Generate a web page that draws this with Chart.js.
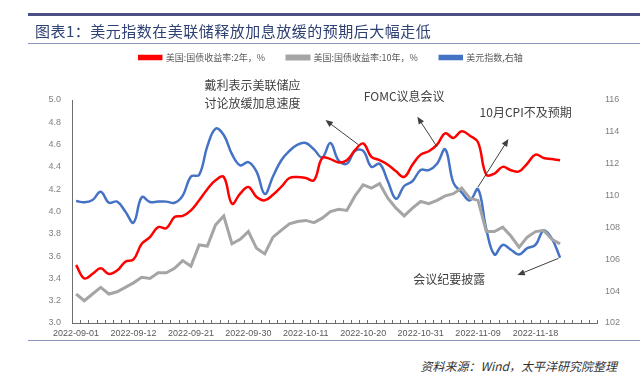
<!DOCTYPE html>
<html>
<head>
<meta charset="utf-8">
<script src="https://cdn.jsdelivr.net/npm/chart.js@4/dist/chart.umd.min.js"></script>
<style>
  html, body { margin: 0; padding: 0; background: #fff; }
  body { width: 642px; height: 377px; position: relative; overflow: hidden; font-family: "Noto Sans CJK SC", sans-serif; }
  .bar-top { position: absolute; left: 28px; right: 2px; top: 13px; height: 3px; background: #4b4f86; }
  .title { position: absolute; left: 35px; top: 20px; font-size: 15px; color: #2f4173; letter-spacing: 0.5px; z-index: 2; }
  .rule { position: absolute; left: 28px; right: 2px; height: 1px; background: #9093b8; }
  #box { position: absolute; left: 0; top: 0; width: 642px; height: 340px; }
  .source { position: absolute; right: 25px; top: 357px; font-size: 12px; font-style: italic; color: #333; }
</style>
</head>
<body>
<div class="bar-top"></div>
<div class="title">图表1：美元指数在美联储释放加息放缓的预期后大幅走低</div>
<div class="rule" style="top:43px"></div>
<div id="box"><canvas id="chart"></canvas></div>
<div class="rule" style="top:340px"></div>
<div class="source">资料来源：Wind，太平洋研究院整理</div>

<script>
// trading days on the axis (the last few have no data yet)
const dates = [
    '2022-09-01', '2022-09-02', '2022-09-05', '2022-09-06', '2022-09-07', '2022-09-08', '2022-09-09',
    '2022-09-12', '2022-09-13', '2022-09-14', '2022-09-15', '2022-09-16', '2022-09-19', '2022-09-20',
    '2022-09-21', '2022-09-22', '2022-09-23', '2022-09-26', '2022-09-27', '2022-09-28', '2022-09-29',
    '2022-09-30', '2022-10-03', '2022-10-04', '2022-10-05', '2022-10-06', '2022-10-07', '2022-10-10',
    '2022-10-11', '2022-10-12', '2022-10-13', '2022-10-14', '2022-10-17', '2022-10-18', '2022-10-19',
    '2022-10-20', '2022-10-21', '2022-10-24', '2022-10-25', '2022-10-26', '2022-10-27', '2022-10-28',
    '2022-10-31', '2022-11-01', '2022-11-02', '2022-11-03', '2022-11-04', '2022-11-07', '2022-11-08',
    '2022-11-09', '2022-11-10', '2022-11-11', '2022-11-14', '2022-11-15', '2022-11-16', '2022-11-17',
    '2022-11-18', '2022-11-21', '2022-11-22', '2022-11-23', '2022-11-24', '2022-11-25', '2022-11-28',
    '2022-11-29'
];

const shownDates = ['2022-09-01', '2022-09-12', '2022-09-21', '2022-09-30', '2022-10-11',
    '2022-10-20', '2022-10-31', '2022-11-09', '2022-11-18'];

const yield2y = [
    3.52, 3.40, 3.44, 3.49, 3.44, 3.47, 3.55, 3.57, 3.71, 3.77,
    3.86, 3.85, 3.95, 3.96, 4.01, 4.10, 4.20, 4.28, 4.31, 4.07,
    4.16, 4.22, 4.13, 4.10, 4.15, 4.22, 4.30, 4.31, 4.30, 4.28,
    4.48, 4.47, 4.44, 4.46, 4.55, 4.61, 4.49, 4.46, 4.42, 4.36,
    4.31, 4.42, 4.51, 4.54, 4.60, 4.70, 4.66, 4.72, 4.68, 4.62,
    4.33, 4.34, 4.40, 4.37, 4.36, 4.43, 4.51, 4.48, 4.47, 4.46
];

const yield10y = [
    3.26, 3.20, 3.26, 3.32, 3.26, 3.28, 3.32, 3.36, 3.41, 3.40,
    3.45, 3.45, 3.49, 3.56, 3.51, 3.70, 3.69, 3.88, 3.96, 3.71,
    3.75, 3.82, 3.67, 3.62, 3.77, 3.83, 3.89, 3.91, 3.92, 3.90,
    3.94, 4.00, 4.02, 4.01, 4.14, 4.24, 4.21, 4.25, 4.12, 4.03,
    3.96, 4.03, 4.09, 4.07, 4.10, 4.14, 4.16, 4.21, 4.12, 4.10,
    3.82, 3.82, 3.86, 3.78, 3.68, 3.77, 3.82, 3.83, 3.75, 3.71
];

const dxy = [
    109.66, 109.58, 109.72, 110.24, 109.55, 109.62, 109.0, 108.3, 109.9, 109.6,
    109.62, 109.62, 109.55, 110.0, 111.2, 111.3, 113.1, 114.2, 113.8, 112.6,
    111.9, 112.1, 111.5, 110.1, 111.2, 112.2, 112.8, 113.2, 113.3, 112.9,
    112.4, 113.3, 112.2, 112.0, 112.8, 112.8, 111.8, 112.0, 110.9, 109.8,
    110.6, 110.9, 111.6, 111.6, 112.0, 112.9, 110.8, 110.2, 109.7, 110.4,
    107.9, 106.3, 106.9, 106.6, 106.3, 106.7, 106.9, 107.8, 107.3, 106.1
];

const seriesNames = ['美国:国债收益率:2年，%', '美国:国债收益率:10年，%', '美元指数,右轴'];

// callouts, placed in (category index, left-axis value)
const notes = [
    { text: '戴利表示美联储应', at: 21.5, val: 5.13 },
    { text: '讨论放缓加息速度', at: 21.5, val: 4.97 },
    { text: 'FOMC议息会议', at: 40.0, val: 5.03 },
    { text: '10月CPI不及预期', at: 54.8, val: 4.89 },
    { text: '会议纪要披露', at: 45.5, val: 3.39 }
];
const arrows = [
    { from: [34.4, 4.60], to: [30.4, 4.82] },
    { from: [44.0, 4.58], to: [41.6, 4.85] },
    { from: [49.0, 4.22], to: [52.7, 4.65] },
    { from: [58.8, 3.58], to: [53.8, 3.43] }
];

const axisFont = { family: '"Liberation Sans", Arial, sans-serif', size: 9 };

// extra room between legend and plot
const legendGap = {
    id: 'legendGap',
    beforeInit(chart) {
        const fit = chart.legend.fit;
        chart.legend.fit = function () {
            fit.bind(chart.legend)();
            this.height += 28;
        };
    }
};

// small tick marks pointing up into the plot, between categories
const innerTicks = {
    id: 'innerTicks',
    afterDraw(chart) {
        const x = chart.scales.x;
        const bottom = chart.chartArea.bottom;
        const ctx = chart.ctx;
        ctx.save();
        ctx.strokeStyle = '#6e6e6e';
        ctx.lineWidth = 1;
        ctx.beginPath();
        for (let i = 0; i <= dates.length; i++) {
            const px = Math.round(x.getPixelForValue(i - 0.5)) + 0.5;
            ctx.moveTo(px, bottom);
            ctx.lineTo(px, bottom - 3);
        }
        ctx.stroke();
        ctx.restore();
    }
};

const callouts = {
    id: 'callouts',
    afterDatasetsDraw(chart) {
        const { ctx, scales: { x, y } } = chart;
        ctx.save();
        ctx.font = '12px "Noto Sans CJK SC"';
        ctx.fillStyle = '#404040';
        ctx.textAlign = 'center';
        ctx.textBaseline = 'middle';
        notes.forEach(n => ctx.fillText(n.text, x.getPixelForValue(n.at), y.getPixelForValue(n.val)));

        ctx.strokeStyle = '#404040';
        ctx.lineWidth = 1;
        arrows.forEach(a => {
            const x1 = x.getPixelForValue(a.from[0]), y1 = y.getPixelForValue(a.from[1]);
            const x2 = x.getPixelForValue(a.to[0]), y2 = y.getPixelForValue(a.to[1]);
            const ang = Math.atan2(y2 - y1, x2 - x1);
            ctx.beginPath();
            ctx.moveTo(x1, y1);
            ctx.lineTo(x2 - 5 * Math.cos(ang), y2 - 5 * Math.sin(ang));
            ctx.stroke();
            ctx.beginPath();
            ctx.moveTo(x2, y2);
            ctx.lineTo(x2 - 8 * Math.cos(ang - 0.4), y2 - 8 * Math.sin(ang - 0.4));
            ctx.lineTo(x2 - 8 * Math.cos(ang + 0.4), y2 - 8 * Math.sin(ang + 0.4));
            ctx.closePath();
            ctx.fill();
        });
        ctx.restore();
    }
};

new Chart(document.getElementById('chart'), {
    type: 'line',
    data: {
        labels: dates,
        datasets: [
            {
                label: seriesNames[0], data: yield2y, yAxisID: 'y',
                borderColor: '#ff0000', backgroundColor: '#ff0000',
                borderWidth: 2.5, tension: 0.4, pointRadius: 0
            },
            {
                label: seriesNames[1], data: yield10y, yAxisID: 'y',
                borderColor: '#a5a5a5', backgroundColor: '#a5a5a5',
                borderWidth: 3, tension: 0, pointRadius: 0
            },
            {
                label: seriesNames[2], data: dxy, yAxisID: 'y1',
                borderColor: '#4472c4', backgroundColor: '#4472c4',
                borderWidth: 2.5, tension: 0.4, pointRadius: 0
            }
        ]
    },
    options: {
        responsive: true,
        maintainAspectRatio: false,
        animation: false,
        layout: { padding: { top: 31, left: 20, right: 0, bottom: 0 } },
        plugins: {
            legend: {
                display: true,
                position: 'top',
                labels: {
                    boxWidth: 22,
                    boxHeight: 3,
                    padding: 22,
                    color: '#595959',
                    font: { family: '"Noto Sans CJK SC"', size: 9 }
                }
            },
            tooltip: { enabled: false }
        },
        scales: {
            x: {
                offset: true,
                grid: { display: false, drawTicks: false },
                border: { display: true, color: '#6e6e6e', width: 1 },
                ticks: {
                    autoSkip: false,
                    maxRotation: 0,
                    minRotation: 0,
                    padding: 5,
                    color: '#595959',
                    font: axisFont,
                    callback: function (value, index) {
                        return shownDates.includes(dates[index]) ? dates[index] : '';
                    }
                },
                afterFit: function (scale) { scale.height = 17; }
            },
            y: {
                position: 'left',
                min: 3.0,
                max: 5.0,
                grid: { display: false, drawTicks: false },
                border: { display: true, color: '#6e6e6e', width: 1 },
                ticks: {
                    stepSize: 0.2,
                    padding: 11,
                    color: '#7f7f7f',
                    font: axisFont,
                    callback: v => Number(v).toFixed(1)
                },
                afterFit: function (scale) { scale.width = 52; }
            },
            y1: {
                position: 'right',
                min: 102,
                max: 116,
                grid: { display: false, drawTicks: false },
                border: { display: false },
                ticks: {
                    stepSize: 2,
                    padding: 8,
                    color: '#7f7f7f',
                    font: axisFont
                },
                afterFit: function (scale) { scale.width = 45; }
            }
        }
    },
    plugins: [legendGap, innerTicks, callouts]
});
</script>
</body>
</html>
